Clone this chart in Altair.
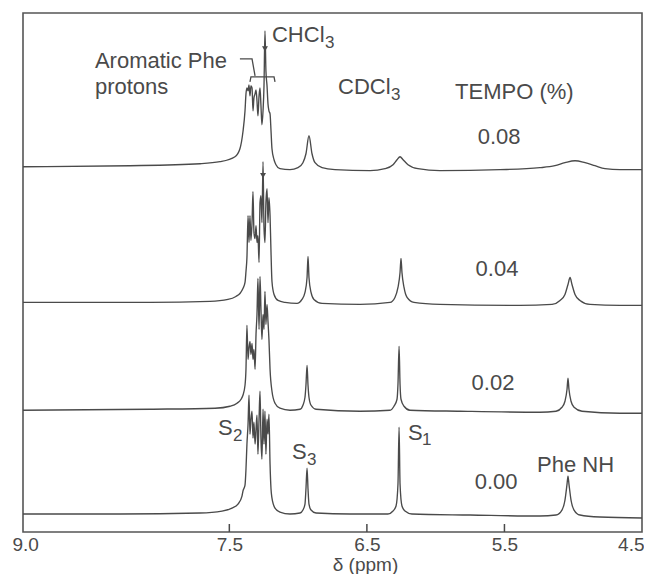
import altair as alt
import pandas as pd

INK = "#4a4a4a"
FONT = "Liberation Sans"

# ---- axis ----
tick_values = [9.0, 7.5, 6.5, 5.5, 4.5]
inner_ticks = [7.5, 6.5, 5.5]
inner_tick_len = [8, 8, 8]

# ---- spectra: (ppm, intensity above own baseline) ----
tempo_levels = ["0.00", "0.02", "0.04", "0.08"]
trace_offset = [18, 123, 230, 367]

spec_000 = [
    (9.000, 0), (8.295, 0), (7.713, 1), (7.553, 3), (7.481, 6), (7.437, 10), (7.408, 18),
    (7.401, 23), (7.386, 29), (7.379, 45), (7.372, 70), (7.364, 90), (7.357, 119), (7.350, 80),
    (7.343, 95), (7.335, 103), (7.328, 76), (7.321, 92), (7.313, 70), (7.306, 85), (7.299, 99),
    (7.292, 60), (7.284, 95), (7.277, 123), (7.270, 75), (7.263, 55), (7.255, 105), (7.248, 70),
    (7.241, 103), (7.234, 60), (7.226, 95), (7.219, 80), (7.212, 100), (7.204, 50), (7.197, 25),
    (7.190, 16), (7.168, 6), (7.132, 2), (7.059, 0), (6.986, 1), (6.965, 4), (6.950, 10),
    (6.943, 25), (6.935, 46), (6.928, 25), (6.921, 10), (6.906, 4), (6.870, 1), (6.623, 0),
    (6.347, 0), (6.310, 3), (6.288, 8), (6.274, 30), (6.266, 87), (6.259, 30), (6.245, 8),
    (6.223, 3), (6.172, 0), (5.750, -1), (5.242, -2), (5.125, -1), (5.082, 4), (5.060, 14),
    (5.045, 30), (5.038, 38), (5.031, 30), (5.016, 14), (4.994, 4), (4.951, -1), (4.806, -3),
    (4.500, -4),
]

spec_002 = [
    (9.000, -1), (8.077, 0), (7.604, 1), (7.495, 3), (7.444, 6), (7.415, 10), (7.401, 14),
    (7.386, 24), (7.379, 40), (7.372, 84), (7.364, 50), (7.357, 62), (7.350, 68), (7.343, 55),
    (7.335, 66), (7.328, 50), (7.321, 60), (7.313, 40), (7.306, 75), (7.299, 95), (7.292, 131),
    (7.284, 80), (7.277, 133), (7.270, 100), (7.263, 70), (7.255, 95), (7.248, 80), (7.241, 118),
    (7.234, 85), (7.226, 105), (7.219, 88), (7.212, 70), (7.204, 40), (7.190, 18), (7.168, 6),
    (7.132, 1), (7.059, -1), (6.986, 0), (6.965, 4), (6.950, 12), (6.943, 24), (6.935, 44),
    (6.928, 24), (6.921, 12), (6.906, 4), (6.870, 0), (6.550, -2), (6.332, -1), (6.303, 3),
    (6.281, 10), (6.274, 25), (6.266, 63), (6.259, 25), (6.252, 10), (6.230, 3), (6.187, -1),
    (5.823, -2), (5.242, -3), (5.125, -2), (5.082, 2), (5.060, 8), (5.045, 20), (5.038, 31),
    (5.031, 20), (5.016, 8), (4.994, 2), (4.936, -2), (4.660, -4), (4.500, -4),
]

spec_004 = [
    (9.000, 0), (8.077, 0), (7.641, 1), (7.510, 3), (7.452, 6), (7.423, 9), (7.401, 14),
    (7.386, 20), (7.379, 31), (7.372, 45), (7.364, 87), (7.357, 60), (7.350, 87), (7.343, 62),
    (7.335, 80), (7.328, 111), (7.321, 70), (7.313, 64), (7.306, 77), (7.299, 60), (7.292, 67),
    (7.284, 40), (7.277, 100), (7.270, 107), (7.263, 80), (7.255, 141), (7.248, 75), (7.241, 60),
    (7.234, 100), (7.226, 114), (7.219, 80), (7.212, 105), (7.204, 87), (7.197, 50), (7.190, 21),
    (7.175, 8), (7.146, 2), (7.095, 0), (7.008, -1), (6.972, 3), (6.950, 10), (6.935, 25),
    (6.928, 46), (6.921, 25), (6.906, 10), (6.885, 3), (6.826, -1), (6.550, -2), (6.332, 0),
    (6.296, 5), (6.274, 15), (6.259, 30), (6.252, 44), (6.245, 30), (6.230, 15), (6.208, 5),
    (6.158, 0), (5.969, -2), (5.387, -3), (5.154, -2), (5.096, 2), (5.060, 8), (5.038, 18),
    (5.023, 25), (5.009, 18), (4.987, 8), (4.951, 2), (4.878, -2), (4.660, -3), (4.500, -3),
]

spec_008 = [
    (9.000, -1), (8.222, 0), (7.713, 2), (7.568, 4), (7.459, 9), (7.423, 17), (7.401, 34),
    (7.386, 55), (7.379, 72), (7.372, 78), (7.364, 75), (7.357, 81), (7.350, 70), (7.343, 80),
    (7.335, 78), (7.328, 55), (7.321, 68), (7.313, 72), (7.306, 76), (7.299, 65), (7.292, 50),
    (7.284, 70), (7.277, 78), (7.270, 60), (7.263, 41), (7.255, 55), (7.248, 80), (7.241, 135),
    (7.234, 95), (7.226, 80), (7.219, 62), (7.212, 55), (7.204, 52), (7.197, 35), (7.190, 17),
    (7.175, 6), (7.161, 1), (7.132, -3), (7.059, -4), (7.001, -2), (6.965, 3), (6.943, 12),
    (6.921, 30), (6.899, 12), (6.877, 3), (6.826, -2), (6.732, -4), (6.477, -5), (6.368, -3),
    (6.310, 1), (6.281, 6), (6.259, 9), (6.237, 6), (6.201, 1), (6.129, -3), (5.969, -5),
    (5.532, -4), (5.242, -2), (5.133, 0), (5.060, 3), (4.987, 5), (4.914, 3), (4.842, 0),
    (4.769, -3), (4.660, -4), (4.500, -4),
]

rows = []
for lvl, off, pts in zip(tempo_levels, trace_offset, [spec_000, spec_002, spec_004, spec_008]):
    for p, h in pts:
        rows.append({"tempo": lvl, "ppm": p, "y": off + h})
spec_df = pd.DataFrame(rows)

# ---- annotations ----
label_text = ["Aromatic Phe", "protons", "CHCl", "CDCl", "TEMPO (%)", "Phe NH", "S", "S", "S"]
label_ppm = [8.477, 8.477, 7.190, 6.710, 5.859, 5.263, 7.582, 7.044, 6.201]
label_y = [472, 446, 498, 446, 441, 67, 104, 80, 99]

sub_text = ["3", "3", "2", "3", "1"]
sub_ppm = [6.804, 6.325, 7.473, 6.935, 6.099]
sub_y = [490, 438, 96, 72, 92]

level_text = ["0.08", "0.04", "0.02", "0.00"]
level_ppm = [5.539, 5.554, 5.583, 5.561]
level_y = [396, 264, 149, 50]

path_id = ["lead", "lead", "lead", "brace", "brace", "brace", "brace"]
path_seq = [0, 1, 2, 0, 1, 2, 3]
path_ppm = [7.423, 7.335, 7.313, 7.350, 7.343, 7.175, 7.168]
path_y = [474, 474, 457, 451, 456, 456, 451]

arrow_ppm = [7.241, 7.255]
arrow_y = [484, 357]

x_scale = alt.Scale(domain=[9.0, 4.5], nice=False, zero=False)
y_scale = alt.Scale(domain=[0, 520], nice=False, zero=False)

x_axis = alt.Axis(
    values=tick_values, format=".1f", title="δ (ppm)", grid=False, domain=False,
    ticks=False, labelFlush=True, labelFlushOffset=2, labelPadding=3,
    labelOffset={"condition": {"test": "datum.value > 8.9", "value": -9}, "value": 0},
    labelFont=FONT, labelFontSize=19, labelColor=INK,
    titleFont=FONT, titleFontSize=19, titleFontWeight="normal", titleColor=INK,
    titleX=342, titleY=38, titleAlign="center", titleBaseline="alphabetic",
)


def X():
    return alt.X("ppm:Q", scale=x_scale, axis=x_axis)


def Y(field="y:Q"):
    return alt.Y(field, scale=y_scale, axis=None)


lines = alt.Chart(spec_df).mark_line(color=INK, strokeWidth=1.35, interpolate="monotone").encode(
    x=X(), y=Y(), detail="tempo:N",
    order=alt.Order("ppm:Q", sort="descending"),
)

tick_df = pd.DataFrame({"ppm": inner_ticks, "y0": [0] * len(inner_ticks), "y1": inner_tick_len})
ticks = alt.Chart(tick_df).mark_rule(color=INK, strokeWidth=1.5).encode(
    x=X(), y=Y("y0:Q"), y2="y1:Q",
)

lab_df = pd.DataFrame({"t": label_text, "ppm": label_ppm, "y": label_y})
labels = alt.Chart(lab_df).mark_text(align="left", baseline="middle", font=FONT, fontSize=22, color=INK).encode(
    x=X(), y=Y(), text="t:N",
)

sub_df = pd.DataFrame({"t": sub_text, "ppm": sub_ppm, "y": sub_y})
subs = alt.Chart(sub_df).mark_text(align="left", baseline="middle", font=FONT, fontSize=17, color=INK).encode(
    x=X(), y=Y(), text="t:N",
)

lev_df = pd.DataFrame({"t": level_text, "ppm": level_ppm, "y": level_y})
levels = alt.Chart(lev_df).mark_text(align="center", baseline="middle", font=FONT, fontSize=22, color=INK).encode(
    x=X(), y=Y(), text="t:N",
)

path_df = pd.DataFrame({"pid": path_id, "seq": path_seq, "ppm": path_ppm, "y": path_y})
paths = alt.Chart(path_df).mark_line(color=INK, strokeWidth=1.3).encode(
    x=X(), y=Y(), detail="pid:N", order="seq:Q",
)

arr_df = pd.DataFrame({"ppm": arrow_ppm, "y": arrow_y})
arrows = alt.Chart(arr_df).mark_point(shape="triangle-down", filled=True, size=35, color=INK, opacity=1).encode(
    x=X(), y=Y(),
)

chart = alt.layer(lines, ticks, labels, subs, levels, paths, arrows).properties(
    width=619,
    height=519,
    autosize=alt.AutoSizeParams(type="none"),
    padding={"left": 15, "top": 5, "right": 2, "bottom": 42},
    background="white",
).configure_view(stroke="#555555", strokeWidth=1.6)

chart.save("out.html", embed_options={"renderer": "svg", "actions": False})
